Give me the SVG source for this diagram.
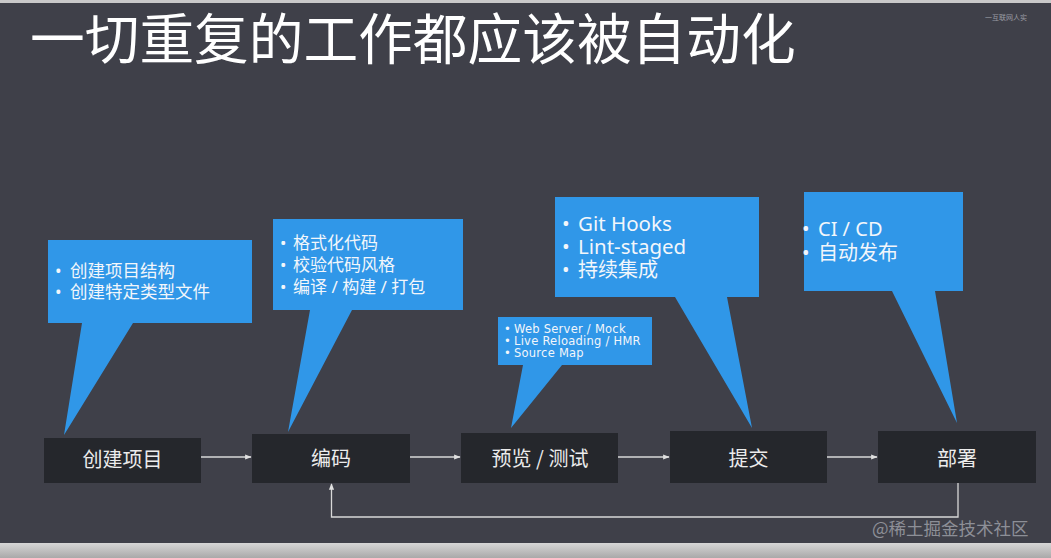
<svg xmlns="http://www.w3.org/2000/svg" width="1051" height="558" viewBox="0 0 1051 558">
<defs>
<style>
.bg{fill:#3f4049}
.box{fill:#25272c}
.call{fill:#3097e8}
.btxt{font-family:"Noto Sans CJK SC","Noto Sans",sans-serif;font-size:20px;fill:#ececec;text-anchor:middle}
.ctxt{font-family:"Noto Sans","Noto Sans CJK SC",sans-serif;fill:#f2f6fb}
.small{font-family:"DejaVu Sans","Noto Sans CJK SC",sans-serif;font-size:11.5px;letter-spacing:0.25px;fill:#f2f6fb}
.conn{fill:none;stroke:#d8d8d8;stroke-width:1.3}
</style>
<marker id="ah" viewBox="0 0 10 10" refX="9" refY="5" markerWidth="5" markerHeight="5" orient="auto-start-reverse">
<path d="M0,1 L10,5 L0,9 z" fill="#e0e0e0"/>
</marker>
<linearGradient id="strip" x1="0" y1="0" x2="0" y2="1">
<stop offset="0" stop-color="#d6d6d6"/>
<stop offset="1" stop-color="#a9a9a9"/>
</linearGradient>
</defs>
<rect class="bg" x="0" y="0" width="1051" height="558"/>
<rect x="0" y="0" width="1051" height="3" fill="#c9c9c9"/>
<rect x="0" y="543" width="1051" height="15" fill="url(#strip)"/>

<text x="30" y="59" font-family="'Noto Sans CJK SC',sans-serif" font-size="54.7" fill="#ffffff">一切重复的工作都应该被自动化</text>
<text x="985" y="20" font-family="'Noto Sans CJK SC',sans-serif" font-size="7" fill="#9a9ca3">一互联网人实</text>

<g id="callout-1">
<path class="call" d="M48,240 H252 V323 H133 L64,435 L82,323 H48 Z"/>
<text class="ctxt" font-size="17.5" x="55" y="277">•<tspan x="70">创建项目结构</tspan></text>
<text class="ctxt" font-size="17.5" x="55" y="298">•<tspan x="70">创建特定类型文件</tspan></text>
</g>

<g id="callout-2">
<path class="call" d="M273,219 H463 V310 H352 L288,432 L310,310 H273 Z"/>
<text class="ctxt" font-size="17" x="280" y="249">•<tspan x="293">格式化代码</tspan></text>
<text class="ctxt" font-size="17" x="280" y="271">•<tspan x="293">校验代码风格</tspan></text>
<text class="ctxt" font-size="17" x="280" y="293">•<tspan x="293">编译 / 构建 / 打包</tspan></text>
</g>

<g id="callout-3">
<path class="call" d="M498,317 H652 V365 H562 L511,428 L523,365 H498 Z"/>
<text class="small" x="504" y="333">•<tspan x="514">Web Server / Mock</tspan></text>
<text class="small" x="504" y="345">•<tspan x="514">Live Reloading / HMR</tspan></text>
<text class="small" x="504" y="357">•<tspan x="514">Source Map</tspan></text>
</g>

<g id="callout-4">
<path class="call" d="M555,197 H759 V297 H727 L752,428 L675,297 H555 Z"/>
<text class="ctxt" font-size="20.5" x="562" y="231">•<tspan x="578">Git Hooks</tspan></text>
<text class="ctxt" font-size="20.5" x="562" y="254">•<tspan x="578">Lint-staged</tspan></text>
<text class="ctxt" font-size="20" x="562" y="277">•<tspan x="578">持续集成</tspan></text>
</g>

<g id="callout-5">
<path class="call" d="M804,192 H963 V291 H935 L957,423 L892,291 H804 Z"/>
<text class="ctxt" font-size="20" x="802" y="236">•<tspan x="818">CI / CD</tspan></text>
<text class="ctxt" font-size="20" x="802" y="260">•<tspan x="818">自动发布</tspan></text>
</g>

<g id="connectors">
<line class="conn" x1="201" y1="457" x2="251" y2="457" marker-end="url(#ah)"/>
<line class="conn" x1="410" y1="457" x2="460" y2="457" marker-end="url(#ah)"/>
<line class="conn" x1="618" y1="457" x2="669" y2="457" marker-end="url(#ah)"/>
<line class="conn" x1="827" y1="457" x2="877" y2="457" marker-end="url(#ah)"/>
<polyline class="conn" points="958,483 958,517 331.5,517 331.5,484" marker-end="url(#ah)"/>
</g>

<g id="node-create">
<rect class="box" x="44" y="438" width="157" height="45"/>
<text class="btxt" x="122.5" y="467">创建项目</text>
</g>
<g id="node-code">
<rect class="box" x="252" y="434" width="158" height="49"/>
<text class="btxt" x="331" y="466">编码</text>
</g>
<g id="node-preview">
<rect class="box" x="461" y="433" width="157" height="50"/>
<text class="btxt" x="540" y="466">预览 / 测试</text>
</g>
<g id="node-commit">
<rect class="box" x="670" y="431" width="157" height="52"/>
<text class="btxt" x="748.5" y="466">提交</text>
</g>
<g id="node-deploy">
<rect class="box" x="878" y="431" width="158" height="52"/>
<text class="btxt" x="957" y="466">部署</text>
</g>

<text x="872" y="535" font-family="'Noto Sans CJK SC',sans-serif" font-size="17.5" fill="#8d8f97">@稀土掘金技术社区</text>
</svg>
